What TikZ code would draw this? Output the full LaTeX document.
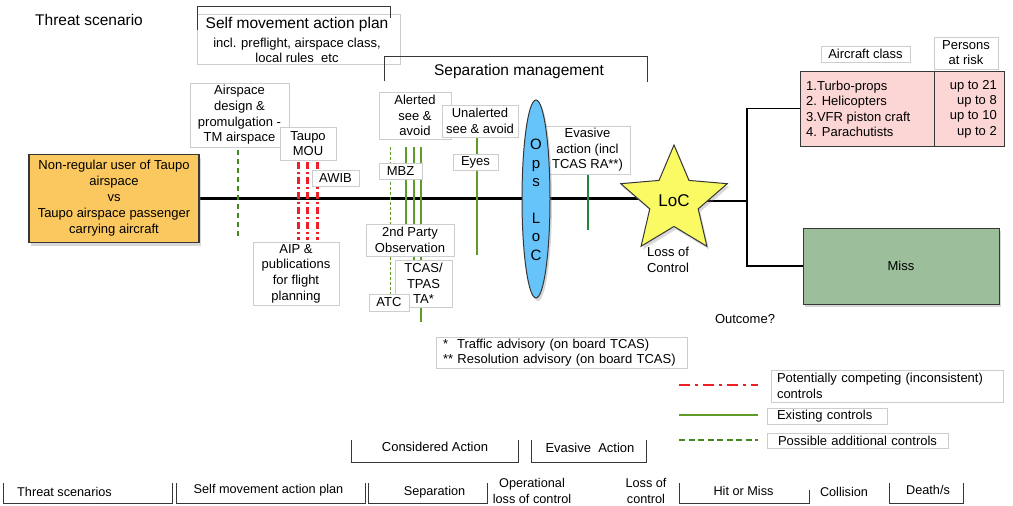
\documentclass[tikz,border=0pt]{standalone}
\usepackage{fontspec}
\setmainfont{Liberation Sans}
\usetikzlibrary{shapes.geometric,shadows,backgrounds}
\definecolor{orangefill}{RGB}{250,200,95}
\definecolor{bluefill}{RGB}{102,196,250}
\definecolor{starfill}{RGB}{250,250,100}
\definecolor{pinkfill}{RGB}{252,213,213}
\definecolor{missfill}{RGB}{157,190,155}
\definecolor{ctlgreen}{RGB}{95,155,40}
\definecolor{evgreen}{RGB}{30,135,60}
\definecolor{dashgreen}{RGB}{70,135,30}
\definecolor{ctlred}{RGB}{240,30,40}
\definecolor{lgray}{RGB}{205,205,205}
\definecolor{dgray}{RGB}{55,55,55}
\newcommand\fz[2]{\fontsize{#1}{#2}\selectfont}
\tikzset{
  lbox/.style={draw=lgray, line width=0.6pt, fill=white, inner sep=0pt, align=center, font=\fz{13}{15.6}},
  txt/.style={inner sep=0pt, align=center, font=\fz{13}{15.6}},
  head/.style={inner sep=0pt, font=\fz{15.5}{18}},
  brk/.style={draw=dgray, line width=1pt},
  shade/.style={drop shadow={shadow xshift=2pt, shadow yshift=-3pt, opacity=0.3}},
  ctlexist/.style={draw=ctlgreen, line width=1.5pt},
  ctladd/.style={draw=dashgreen, line width=2.5pt, dash pattern=on 5pt off 4pt},
  ctladdthin/.style={draw=ctlgreen, line width=1pt, dash pattern=on 3pt off 2pt},
  ctlcomp/.style={draw=ctlred, line width=3pt, dash pattern=on 7pt off 3pt on 2pt off 3pt},
  botxt/.style={inner sep=0pt, align=center, font=\fz{12.7}{16}},
}
\begin{document}
\begin{tikzpicture}[x=1pt,y=-1pt]
\useasboundingbox (0,0) rectangle (1013,506);

% ---- headings and top brackets
\node[head, anchor=west] (title) at (35,20) {Threat scenario};
\node[lbox, minimum width=203, minimum height=50] (selfbox) at (298.5,39) {};
\node[head] (selftitle) at (297,24) {Self movement action plan};
\node[txt] (selfsub) at (297,50.5) {incl. preflight, airspace class,\\local rules\ \ etc};
\draw[brk] (197,30) -- (197,6) -- (390,6) -- (390,18);
\draw[brk] (384,81) -- (384,56) -- (647,56) -- (647,82);
\node[head] (sephead) at (519,71) {Separation management};

% ---- control boxes
\node[lbox, minimum width=99, minimum height=64] (airbox) at (239.5,115) {Airspace\\design \&\\promulgation -\\TM airspace};
\node[lbox, minimum width=56, minimum height=33] (mou) at (308,143.5) {Taupo\\MOU};
\node[lbox, minimum width=47, minimum height=16] (awib) at (335.5,178) {AWIB};
\node[lbox, minimum width=86, minimum height=63] (aip) at (296,273.5) {AIP \&\\publications\\for flight\\planning};
\node[lbox, minimum width=72, minimum height=47] (alert) at (415,115.5) {Alerted\\see \&\\avoid};
\node[lbox, minimum width=76, minimum height=32] (unalert) at (480,121) {Unalerted\\see \& avoid};
\node[lbox, minimum width=45, minimum height=16] (eyes) at (475.5,162) {Eyes};
\node[lbox, minimum width=43, minimum height=16] (mbz) at (400.5,171) {MBZ};
\node[lbox, minimum width=88, minimum height=32] (party) at (410,240) {2nd Party\\Observation};
\node[lbox, minimum width=57, minimum height=47] (tcas) at (423.5,283.5) {TCAS/\\TPAS\\TA*};
\node[lbox, minimum width=40, minimum height=17] (atc) at (389,302.5) {ATC};
\node[lbox, minimum width=85, minimum height=48] (evasive) at (587.5,150) {Evasive\\action (incl\\TCAS RA**)};

% ---- threat box
\node[draw=dgray, line width=1.2pt, fill=orangefill, shade, minimum width=170, minimum height=88, inner sep=0pt, align=center, font=\fz{13}{16}] (threat) at (114,198.5) {Non-regular user of Taupo\\airspace\\vs\\Taupo airspace passenger\\carrying aircraft};

% ---- Ops LoC
\node[ellipse, draw=dgray, line width=1pt, fill=bluefill, shade, minimum width=28, minimum height=198, inner sep=0pt] (ops) at (536,199) {};
\node[inner sep=0pt, align=center, font=\fz{15}{18.4}] (opstext) at (536,200) {O\\p\\s\\[18.4pt]L\\o\\C};

% ---- LoC star
\node[star, star points=5, star point ratio=2.2, minimum size=112, inner sep=0pt, draw=dgray, line width=1pt, fill=starfill, shade, font=\fz{17}{20}] (loc) at (674,201) {LoC};
\node[txt] (losstxt) at (668,260) {Loss of\\Control};
\coordinate (split) at (747,201);

% ---- outcomes
\node[draw=dgray, line width=1pt, fill=pinkfill, minimum width=204, minimum height=75, inner sep=0pt] (pink) at (902,108.5) {};
\draw[dgray, line width=1pt] (pink.north -| 934,0) -- (pink.south -| 934,0);
\node[txt, align=left, anchor=west, font=\fz{13}{15.4}] (classes) at (806,109) {1.Turbo-props\\2. Helicopters\\3.VFR piston craft\\4. Parachutists};
\node[txt, align=right, anchor=east, font=\fz{13}{15.4}] (risk) at (997,109) {up to 21\\up to 8\\up to 10\\up to 2};
\node[lbox, minimum width=89, minimum height=16] (acclass) at (865.5,54) {Aircraft class};
\node[lbox, minimum width=64, minimum height=32, font=\fz{13}{15}] (persons) at (966,53) {Persons\\at risk};
\node[draw=dgray, line width=1pt, fill=missfill, shade, minimum width=196, minimum height=76, inner sep=0pt, font=\fz{13}{15.6}] (miss) at (901,266) {Miss};
\node[txt] (outcome) at (745,319) {Outcome?};

% ---- footnote
\node[lbox, align=left, text width=237, inner xsep=7pt, minimum height=31] (foot) at (561.5,352.5) {*\hspace{9pt}Traffic advisory (on board TCAS)\\{}** Resolution advisory (on board TCAS)};

% ---- legend
\node[lbox, align=left, text width=220, inner xsep=6pt, minimum height=32] (leg1) at (887,386) {Potentially competing (inconsistent)\\controls};
\node[lbox, align=left, text width=100, inner xsep=10pt, minimum height=16] (leg2) at (827,416) {Existing controls};
\node[lbox, align=left, text width=159, inner xsep=11pt, minimum height=15] (leg3) at (857.5,440.5) {Possible additional controls};
\draw[ctlcomp, line width=2.5pt, dash pattern=on 11pt off 5pt on 3pt off 5pt] (679,385) -- (758,385);
\draw[ctlexist, line width=2.5pt] (679,415) -- (758,415);
\draw[ctladd, dash pattern=on 6pt off 3.5pt] (679,440) -- (758,440);

% ---- action brackets
\draw[brk] (351,440) -- (351,462) -- (518,462) -- (518,440);
\draw[brk] (531,440) -- (531,462) -- (646,462) -- (646,440);
\node[txt] (consid) at (435,447) {Considered Action};
\node[txt] (evact) at (590,448) {Evasive\ \ Action};

% ---- bottom row
\draw[brk] (3,483) -- (3,503) -- (172,503) -- (172,483);
\draw[brk] (176,483) -- (176,503) -- (365,503) -- (365,483);
\draw[brk] (368,483) -- (368,503) -- (487,503) -- (487,483);
\draw[brk] (679,483) -- (679,503) -- (809,503) -- (809,490);
\draw[brk] (889,483) -- (889,503) -- (963,503) -- (963,483);
\node[botxt] (b1) at (64.5,492) {Threat scenarios};
\node[botxt] (b2) at (268.5,490) {Self movement action plan};
\node[botxt] (b3) at (434.5,492) {Separation};
\node[botxt] (b4) at (532,491) {Operational\\loss of control};
\node[botxt] (b5) at (646,491) {Loss of\\control};
\node[botxt] (b6) at (743.5,490.5) {Hit or Miss};
\node[botxt] (b7) at (844,492) {Collision};
\node[botxt] (b8) at (928,490) {Death/s};

% ---- background: main line and control lines
\begin{scope}[on background layer]
\fill[white] (0,0) rectangle (1013,506);
\draw[black, line width=2.5pt] (threat.east) -- (threat.east -| loc.center);
\draw[black, line width=1.2pt] (loc.center) -- (split);
\draw[black, line width=1.2pt] (split) |- (pink.west);
\draw[black, line width=1.2pt] (split) |- (miss.west);
\draw[ctladd] (238,150) -- (238,237);
\foreach \x in {298,307,317} \draw[ctlcomp] (\x,162) -- (\x,240);
\draw[ctladdthin] (390,147) -- (390,294);
\draw[ctlexist] (406,147) -- (406,224);
\draw[ctlexist] (414,147) -- (414,300);
\draw[ctlexist] (421,147) -- (421,322);
\draw[ctlexist] (477,137) -- (477,255);
\draw[draw=evgreen, line width=2pt] (588,174) -- (588,230);
\end{scope}
\end{tikzpicture}
\end{document}
